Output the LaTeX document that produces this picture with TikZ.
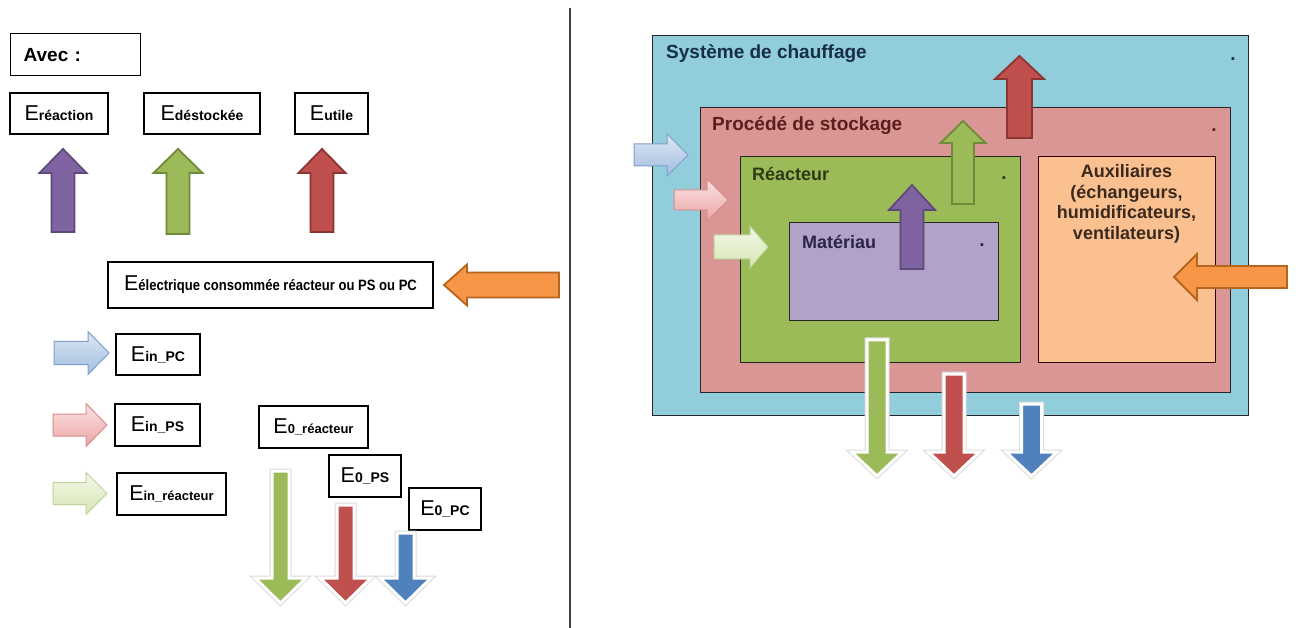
\documentclass[tikz,border=0pt]{standalone}
\usepackage{fontspec}
\setmainfont{Liberation Sans}
\usepackage{graphicx}
\definecolor{sysC}{HTML}{92CDDC}
\definecolor{procC}{HTML}{DA9694}
\definecolor{reacC}{HTML}{9BBB59}
\definecolor{matC}{HTML}{B3A2C7}
\definecolor{auxC}{HTML}{FAC090}
\definecolor{purpF}{HTML}{8064A2}
\definecolor{purpD}{HTML}{5F497A}
\definecolor{grnF}{HTML}{9BBB59}
\definecolor{grnD}{HTML}{6F8A3A}
\definecolor{redF}{HTML}{C0504D}
\definecolor{redD}{HTML}{8C3432}
\definecolor{orgF}{HTML}{F79646}
\definecolor{orgD}{HTML}{B5651D}
\definecolor{bluF}{HTML}{4F81BD}
\definecolor{lbT}{HTML}{DDE8F4}
\definecolor{lbB}{HTML}{A2BDDF}
\definecolor{lbD}{HTML}{7F9FCB}
\definecolor{lpT}{HTML}{FBE2E2}
\definecolor{lpB}{HTML}{EBA6A5}
\definecolor{lpD}{HTML}{D58E8C}
\definecolor{lgT}{HTML}{F3F8E8}
\definecolor{lgB}{HTML}{D6E7B4}
\definecolor{lgD}{HTML}{BED49A}
\definecolor{sysT}{HTML}{162F45}
\definecolor{procT}{HTML}{5A1F1D}
\definecolor{reacT}{HTML}{2E3A15}
\definecolor{matT}{HTML}{2A2448}
\definecolor{auxT}{HTML}{3A2A1E}
% vertical arrow: style, cx, tip y, head half, base y, shaft half, end y
\newcommand{\vArr}[7]{\draw[#1] (#2,#3) -- ({#2+#4},#5) -- ({#2+#6},#5) -- ({#2+#6},#7) -- ({#2-#6},#7) -- ({#2-#6},#5) -- ({#2-#4},#5) -- cycle;}
% horizontal arrow: style, cy, tip x, head half, base x, shaft half, end x
\newcommand{\hArr}[7]{\draw[#1] (#3,#2) -- (#5,{#2-#4}) -- (#5,{#2-#6}) -- (#7,{#2-#6}) -- (#7,{#2+#6}) -- (#5,{#2+#6}) -- (#5,{#2+#4}) -- cycle;}
% outflow arrow with white border
\newcommand{\dArr}[7]{\vArr{draw=gray!28,line width=5,line join=miter}{#2}{#3}{#4}{#5}{#6}{#7}\vArr{fill=#1,draw=white,line width=3,line join=miter}{#2}{#3}{#4}{#5}{#6}{#7}}
\newcommand{\Elab}[1]{{\fontsize{21.5}{24}\selectfont E}{\fontsize{14}{18}\selectfont\bfseries #1}}
\newcommand{\Elabs}[1]{{\fontsize{21.5}{24}\selectfont E}{\fontsize{13}{18}\selectfont\bfseries #1}}
\tikzset{
  lbox/.style={draw=black, line width=1.3, fill=white, inner sep=0pt},
  zone/.style={draw=black!85, line width=1.3, inner sep=0pt, anchor=north west},
  ztext/.style={anchor=west, inner sep=0pt, font=\bfseries\fontsize{19}{22}\selectfont},
  zdot/.style={inner sep=0pt, font=\bfseries\fontsize{19}{19}\selectfont},
  uparr/.style={line width=1.8, line join=miter},
  inarr/.style={line width=1, line join=miter}
}
\begin{document}
\begin{tikzpicture}[x=1pt,y=-1pt]
\useasboundingbox (0,0) rectangle (1296,628);
\fill[white] (0,0) rectangle (1296,628);

% ---------- left legend ----------
\node[lbox, anchor=north west, minimum width=130, minimum height=42, text width=104, inner xsep=13, align=left,
  font=\bfseries\fontsize{19}{22}\selectfont] (avec) at (10,33) {Avec :};
\node[lbox, minimum width=98, minimum height=41] (ereac) at (59,113.5) {\Elab{réaction}};
\node[lbox, minimum width=116, minimum height=41] (edest) at (202,113.5) {\Elab{déstockée}};
\node[lbox, minimum width=73, minimum height=41] (eutil) at (331.5,113.5) {\Elab{utile}};

\vArr{uparr, fill=purpF, draw=purpD}{63}{149}{23.5}{173}{11.5}{232}
\vArr{uparr, fill=grnF, draw=grnD}{178}{149}{24.5}{173}{11.5}{234}
\vArr{uparr, fill=redF, draw=redD}{322}{149}{23.5}{173}{11.5}{232}

\node[lbox, minimum width=325, minimum height=46] (eelec) at (270.5,285)
  {{\fontsize{21.5}{24}\selectfont E}\scalebox{0.87}[1]{\fontsize{15}{18}\selectfont\bfseries électrique consommée réacteur ou PS ou PC}};
\hArr{uparr, fill=orgF, draw=orgD}{285}{444}{20.5}{467}{12.5}{559}

\hArr{inarr, top color=lbT, bottom color=lbB, draw=lbD}{353}{109}{21.5}{88}{11.5}{54}
\hArr{inarr, top color=lpT, bottom color=lpB, draw=lpD}{425}{107}{21.5}{86}{11}{53}
\hArr{inarr, top color=lgT, bottom color=lgB, draw=lgD}{493.5}{107}{21}{86}{11}{53}
\node[lbox, minimum width=84, minimum height=41] (einpc) at (158,354.5) {\Elab{in\_PC}};
\node[lbox, minimum width=85, minimum height=42] (einps) at (157.5,425) {\Elab{in\_PS}};
\node[lbox, minimum width=109, minimum height=42] (einr) at (171.5,494) {\Elabs{in\_réacteur}};

\node[lbox, minimum width=109, minimum height=42] (e0r) at (313.5,427) {\Elabs{0\_réacteur}};
\node[lbox, minimum width=72, minimum height=42] (e0ps) at (365,476) {\Elab{0\_PS}};
\node[lbox, minimum width=72, minimum height=42] (e0pc) at (445,509) {\Elab{0\_PC}};

\dArr{grnF}{280.5}{603}{25.5}{578}{8.5}{471}
\dArr{redF}{345.5}{603}{25.5}{578}{8.5}{505}
\dArr{bluF}{405.5}{603}{25.5}{578}{8.5}{533}

% divider
\coordinate (dtop) at (570,8);
\coordinate (dbot) at (570,628);
\draw[black!75, line width=1.6] (dtop) -- (dbot);

% ---------- right diagram ----------
\node[zone, fill=sysC, minimum width=596, minimum height=380] (sys) at (652,35) {};
\node[zone, fill=procC, minimum width=530, minimum height=285] (proc) at (700,107) {};
\node[zone, fill=reacC, minimum width=280, minimum height=206] (reac) at (740,156) {};
\node[zone, fill=matC, minimum width=209, minimum height=98] (mat) at (789,222) {};
\node[zone, fill=auxC, minimum width=177, minimum height=206, draw=black!80!red] (aux) at (1038,156) {};

\node[ztext, text=sysT] (tsys) at (666,54) {Système de chauffage};
\node[ztext, text=procT] (tproc) at (712,126) {Procédé de stockage};
\node[ztext, text=reacT, font=\bfseries\fontsize{18}{22}\selectfont] (treac) at (752,174) {Réacteur};
\node[ztext, text=matT, font=\bfseries\fontsize{18}{22}\selectfont] (tmat) at (802,242) {Matériau};
\node[inner sep=0pt, align=center, text=auxT, font=\bfseries\fontsize{18}{20.5}\selectfont] (taux) at (1126.5,204)
  {Auxiliaires\\(échangeurs,\\humidificateurs,\\ventilateurs)};
\node[zdot, text=sysT] (dsys) at (1233,59) {.};
\node[zdot, text=procT] (dproc) at (1214,130) {.};
\node[zdot, text=reacT] (dreac) at (1004,178) {.};
\node[zdot, text=matT] (dmat) at (982,245) {.};

\vArr{uparr, fill=redF, draw=redD}{1019.5}{56}{24.5}{79}{12.5}{138}
\vArr{uparr, fill=grnF, draw=grnD}{963}{121}{22.5}{143}{11}{204}
\vArr{uparr, fill=purpF, draw=purpD}{912}{185}{23}{210}{11.5}{269}

\hArr{inarr, top color=lbT, bottom color=lbB, draw=lbD}{155}{688}{21}{667}{11}{634}
\hArr{inarr, top color=lpT, bottom color=lpB, draw=lpD}{200}{728}{21}{707}{10}{674}
\hArr{inarr, top color=lgT, bottom color=lgB, draw=lgD}{247}{768}{21}{750}{12}{714}
\hArr{uparr, fill=orgF, draw=orgD}{277}{1174}{23}{1197}{11}{1287}

\dArr{grnF}{877}{476}{25.5}{452}{10}{340}
\dArr{redF}{954}{476}{25.5}{452}{10}{374}
\dArr{bluF}{1031.5}{476}{25.5}{452}{10}{404}
\end{tikzpicture}
\end{document}
